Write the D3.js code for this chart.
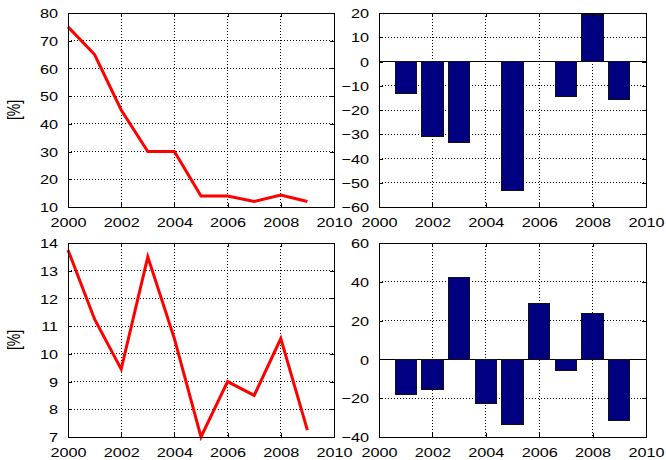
<!DOCTYPE html>
<html>
<head>
<meta charset="utf-8">
<script src="https://cdn.jsdelivr.net/npm/d3@7"></script>
<style>
  html, body { margin: 0; padding: 0; background: #fff; }
  svg { display: block; }
  text { font-family: "Liberation Sans", Arial, Helvetica, sans-serif; fill: #000; }
</style>
</head>
<body>
<svg id="chart" width="666" height="460"></svg>
<script>
// Years shared by all four panels
const years = [2000, 2001, 2002, 2003, 2004, 2005, 2006, 2007, 2008, 2009];
const xTicks = [2000, 2002, 2004, 2006, 2008, 2010];

// Upper row: level [%] and its yearly change [%]
const levelA = [75, 65, 45, 30, 30, 14, 14, 12, 14.3, 12];
const changeA = [null, -13.2, -30.8, -33.3, 0, -53.4, 0, -14.3, 19.2, -15.8];
const yTicksLevelA = [10, 20, 30, 40, 50, 60, 70, 80];
const yTicksChangeA = [-60, -50, -40, -30, -20, -10, 0, 10, 20];

// Lower row: level [%] and its yearly change [%]
const levelB = [13.75, 11.25, 9.45, 13.5, 10.55, 7.0, 9.0, 8.5, 10.55, 7.25];
const changeB = [null, -18.3, -15.7, 42.4, -22.5, -33.6, 28.9, -5.7, 23.7, -31.3];
const yTicksLevelB = [7, 8, 9, 10, 11, 12, 13, 14];
const yTicksChangeB = [-40, -20, 0, 20, 40, 60];

const yLabel = "[%]";
const svg = d3.select("#chart");
const SX = 1.25;      // horizontal stretch of the lettering
const TICK = 4;
const fmt = d3.format("d");

function panel(box, yDomain, yTicks, opts) {
  const g = svg.append("g");
  const x = d3.scaleLinear().domain([2000, 2010]).range([box.x0, box.x1]);
  const y = d3.scaleLinear().domain(yDomain).range([box.y1, box.y0]);

  // dotted grid
  g.append("g").selectAll("line.gx")
    .data(xTicks.slice(1, -1)).join("line")
    .attr("x1", d => x(d)).attr("x2", d => x(d))
    .attr("y1", box.y0).attr("y2", box.y1)
    .attr("stroke", "#000").attr("stroke-width", 1)
    .attr("stroke-dasharray", "1,2").attr("shape-rendering", "crispEdges");
  g.append("g").selectAll("line.gy")
    .data(yTicks.slice(1, -1)).join("line")
    .attr("x1", box.x0).attr("x2", box.x1)
    .attr("y1", d => y(d)).attr("y2", d => y(d))
    .attr("stroke", "#000").attr("stroke-width", 1)
    .attr("stroke-dasharray", "1,2").attr("shape-rendering", "crispEdges");

  // marks
  if (opts.kind === "line") {
    const line = d3.line().x((d, i) => x(years[i])).y(d => y(d));
    g.append("path").datum(opts.values)
      .attr("d", line).attr("fill", "none")
      .attr("stroke", "#ff0000").attr("stroke-width", 3)
      .attr("stroke-linejoin", "miter");
  } else {
    const bw = x(2000.8) - x(2000);
    g.append("line")
      .attr("x1", box.x0).attr("x2", box.x1)
      .attr("y1", y(0)).attr("y2", y(0))
      .attr("stroke", "#000").attr("stroke-width", 1)
      .attr("shape-rendering", "crispEdges");
    g.append("g").selectAll("rect")
      .data(years.map((yr, i) => ({ yr, v: opts.values[i] })).filter(d => d.v !== null))
      .join("rect")
      .attr("x", d => x(d.yr) - bw / 2)
      .attr("width", bw)
      .attr("y", d => y(Math.max(0, d.v)))
      .attr("height", d => Math.abs(y(d.v) - y(0)))
      .attr("fill", "#000080")
      .attr("stroke", "#111").attr("stroke-width", 1)
      .attr("shape-rendering", "crispEdges");
  }

  // axes: inward ticks on all four sides
  const ax = [
    g.append("g").attr("transform", `translate(0,${box.y1})`)
      .call(d3.axisBottom(x).tickValues(xTicks).tickSize(-TICK).tickFormat(fmt)),
    g.append("g").attr("transform", `translate(0,${box.y0})`)
      .call(d3.axisTop(x).tickValues(xTicks).tickSize(-TICK).tickFormat("")),
    g.append("g").attr("transform", `translate(${box.x0},0)`)
      .call(d3.axisLeft(y).tickValues(yTicks).tickSize(-TICK).tickFormat(fmt)),
    g.append("g").attr("transform", `translate(${box.x1},0)`)
      .call(d3.axisRight(y).tickValues(yTicks).tickSize(-TICK).tickFormat(""))
  ];
  ax.forEach(a => {
    a.select(".domain").attr("stroke", "#000").attr("shape-rendering", "crispEdges");
    a.selectAll(".tick line").attr("stroke", "#000").attr("shape-rendering", "crispEdges");
  });
  ax[0].selectAll(".tick text")
    .attr("font-size", 13).attr("font-family", null)
    .attr("y", 0).attr("dy", "1.12em")
    .attr("transform", `translate(0,5) scale(${SX},1)`)
    .attr("x", 0);
  ax[2].selectAll(".tick text")
    .attr("font-size", 13).attr("font-family", null)
    .attr("dy", "0.36em")
    .attr("x", -10 / SX)
    .attr("transform", `scale(${SX},1)`);

  if (opts.ylabel) {
    const cy = (box.y0 + box.y1) / 2;
    g.append("text")
      .attr("transform", `translate(20,${cy}) scale(${SX},1) rotate(-90)`)
      .attr("text-anchor", "middle")
      .attr("font-size", 14)
      .text(opts.ylabel);
  }
}

panel({ x0: 68, x1: 334, y0: 13, y1: 207 }, [10, 80], yTicksLevelA,
      { kind: "line", values: levelA, ylabel: yLabel });
panel({ x0: 379, x1: 646, y0: 13, y1: 207 }, [-60, 20], yTicksChangeA,
      { kind: "bar", values: changeA });
panel({ x0: 68, x1: 334, y0: 243, y1: 437 }, [7, 14], yTicksLevelB,
      { kind: "line", values: levelB, ylabel: yLabel });
panel({ x0: 379, x1: 646, y0: 243, y1: 437 }, [-40, 60], yTicksChangeB,
      { kind: "bar", values: changeB });
</script>
</body>
</html>
